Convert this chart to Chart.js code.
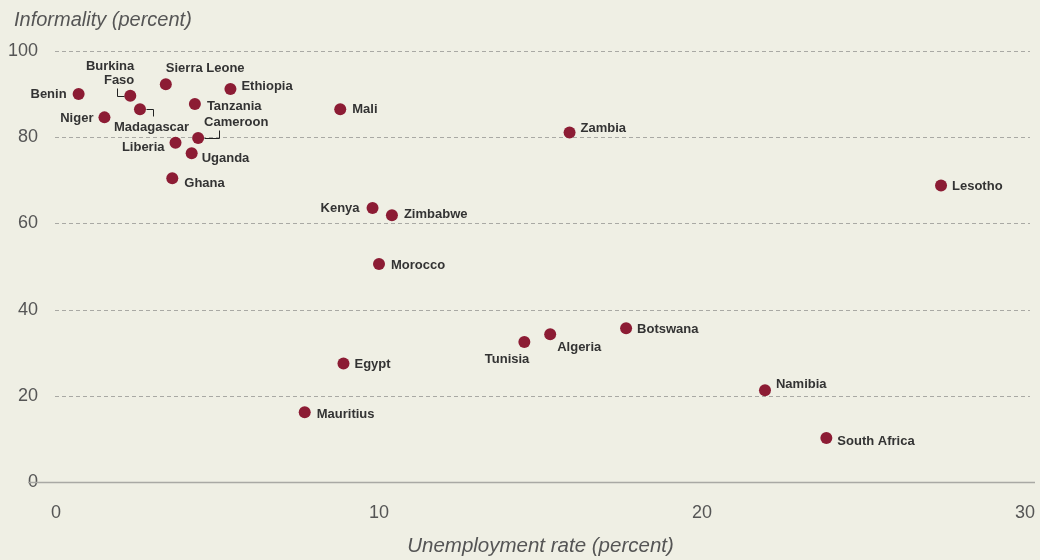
<!DOCTYPE html>
<html>
<head>
<meta charset="utf-8">
<script src="https://cdn.jsdelivr.net/npm/chart.js@4.4.1/dist/chart.umd.min.js"></script>
<style>
  html, body { margin: 0; padding: 0; background: #efefe4; }
  #wrap { width: 1040px; height: 560px; }
</style>
</head>
<body>
<div id="wrap"><canvas id="chart" width="1040" height="560"></canvas></div>
<script>
// data
const countries = ["Benin", "Burkina Faso", "Madagascar", "Niger", "Sierra Leone", "Ethiopia",
  "Tanzania", "Cameroon", "Liberia", "Uganda", "Ghana", "Mali", "Kenya", "Zimbabwe", "Morocco",
  "Zambia", "Lesotho", "Tunisia", "Algeria", "Botswana", "Egypt", "Mauritius", "Namibia", "South Africa"];
const unemployment = [0.7, 2.3, 2.6, 1.5, 3.4, 5.4, 4.3, 4.4, 3.7, 4.2, 3.6, 8.8, 9.8, 10.4, 10.0,
  15.9, 27.4, 14.5, 15.3, 17.65, 8.9, 7.7, 21.95, 23.85];
const informality = [90.0, 89.6, 86.5, 84.6, 92.3, 91.2, 87.7, 79.8, 78.7, 76.3, 70.5, 86.5, 63.6, 61.9, 50.6,
  81.1, 68.8, 32.5, 34.3, 35.7, 27.5, 16.2, 21.3, 10.2];
const xTicks = [0, 10, 20, 30];
const yTicks = [0, 20, 40, 60, 80, 100];
const yTitle = "Informality (percent)";
const xTitle = "Unemployment rate (percent)";

// where each label sits relative to its dot (pixels)
const labelSpots = {
  "Benin": { dx: -12, dy: 0, align: "right" },
  "Burkina Faso": { dx: 4, dy: -29, align: "right", lines: ["Burkina", "Faso"], leader: [[-13, -8], [-13, 0], [-6, 0]] },
  "Madagascar": { dx: -26, dy: 18, align: "left", leader: [[6, 0], [13, 0], [13, 7]] },
  "Niger": { dx: -11, dy: 1, align: "right" },
  "Sierra Leone": { dx: 0, dy: -16, align: "left" },
  "Ethiopia": { dx: 11, dy: -3, align: "left" },
  "Tanzania": { dx: 12, dy: 2, align: "left" },
  "Cameroon": { dx: 6, dy: -16, align: "left", leader: [[6, 0], [21, 0], [21, -8]] },
  "Liberia": { dx: -11, dy: 5, align: "right" },
  "Uganda": { dx: 10, dy: 5, align: "left" },
  "Ghana": { dx: 12, dy: 5, align: "left" },
  "Mali": { dx: 12, dy: 0, align: "left" },
  "Kenya": { dx: -13, dy: 1, align: "right" },
  "Zimbabwe": { dx: 12, dy: -1, align: "left" },
  "Morocco": { dx: 12, dy: 2, align: "left" },
  "Zambia": { dx: 11, dy: -4, align: "left" },
  "Lesotho": { dx: 11, dy: 1, align: "left" },
  "Tunisia": { dx: 5, dy: 17, align: "right" },
  "Algeria": { dx: 7, dy: 13, align: "left" },
  "Botswana": { dx: 11, dy: 1, align: "left" },
  "Egypt": { dx: 11, dy: 1, align: "left" },
  "Mauritius": { dx: 12, dy: 2, align: "left" },
  "Namibia": { dx: 11, dy: -6, align: "left" },
  "South Africa": { dx: 11, dy: 3, align: "left" }
};

const points = countries.map((c, i) => ({ x: unemployment[i], y: informality[i] }));

const gridLines = {
  id: "gridLines",
  beforeDatasetsDraw(chart) {
    const ctx = chart.ctx;
    const y = chart.scales.y;
    ctx.save();
    y.ticks.forEach(t => {
      const py = Math.round(y.getPixelForValue(t.value)) + 0.5;
      ctx.beginPath();
      ctx.strokeStyle = "#a9a9a4";
      if (t.value === 0) {
        ctx.setLineDash([]);
        ctx.lineWidth = 1.5;
        ctx.moveTo(28, py);
        ctx.lineTo(1035, py);
      } else {
        ctx.setLineDash([4, 3]);
        ctx.lineWidth = 1;
        ctx.moveTo(55, py);
        ctx.lineTo(1030, py);
      }
      ctx.stroke();
    });
    // y axis title, top left
    ctx.setLineDash([]);
    ctx.font = "italic 20px 'Liberation Sans', Arial, sans-serif";
    ctx.fillStyle = "#555";
    ctx.textAlign = "left";
    ctx.textBaseline = "middle";
    ctx.fillText(yTitle, 14, 20);
    ctx.restore();
  }
};

const pointLabels = {
  id: "pointLabels",
  afterDatasetsDraw(chart) {
    const ctx = chart.ctx;
    const meta = chart.getDatasetMeta(0);
    ctx.save();
    ctx.font = "bold 13px 'Liberation Sans', Arial, sans-serif";
    ctx.fillStyle = "#333";
    ctx.textBaseline = "middle";
    countries.forEach((name, i) => {
      const p = meta.data[i];
      const s = labelSpots[name];
      if (s.leader) {
        ctx.beginPath();
        ctx.strokeStyle = "#222";
        ctx.lineWidth = 1;
        s.leader.forEach((q, k) => {
          const lx = Math.round(p.x + q[0]) + 0.5, ly = Math.round(p.y + q[1]) + 0.5;
          if (k === 0) ctx.moveTo(lx, ly); else ctx.lineTo(lx, ly);
        });
        ctx.stroke();
      }
      const lines = s.lines || [name];
      ctx.textAlign = s.align;
      lines.forEach((ln, k) => {
        ctx.fillText(ln, p.x + s.dx, p.y + s.dy + k * 14);
      });
    });
    ctx.restore();
  }
};

new Chart(document.getElementById("chart"), {
  type: "scatter",
  data: {
    datasets: [{
      data: points,
      pointRadius: 6,
      pointBorderWidth: 0,
      pointBackgroundColor: "#8c1c34",
      pointHoverRadius: 6
    }]
  },
  options: {
    responsive: false,
    animation: false,
    events: [],
    layout: { padding: { left: 0, right: 15, top: 51, bottom: 0 } },
    plugins: {
      legend: { display: false },
      tooltip: { enabled: false }
    },
    scales: {
      x: {
        type: "linear",
        min: 0, max: 30,
        afterBuildTicks: s => { s.ticks = xTicks.map(v => ({ value: v })); },
        afterFit: s => { s.height = 78; s.paddingLeft = 0; s.paddingRight = 0; },
        grid: { display: false, drawTicks: false },
        border: { display: false },
        ticks: {
          padding: 20,
          color: "#555",
          font: { family: "'Liberation Sans', Arial, sans-serif", size: 18 }
        },
        title: {
          display: true,
          text: xTitle,
          color: "#555",
          font: { family: "'Liberation Sans', Arial, sans-serif", size: 20.5, style: "italic" },
          padding: { top: 4, bottom: 1 }
        }
      },
      y: {
        min: 0, max: 100,
        afterBuildTicks: s => { s.ticks = yTicks.map(v => ({ value: v })); },
        afterFit: s => { s.width = 56; s.paddingTop = 0; s.paddingBottom = 0; },
        grid: { display: false, drawTicks: false },
        border: { display: false },
        ticks: {
          padding: 18,
          color: "#555",
          font: { family: "'Liberation Sans', Arial, sans-serif", size: 18 }
        }
      }
    }
  },
  plugins: [gridLines, pointLabels]
});
</script>
</body>
</html>
